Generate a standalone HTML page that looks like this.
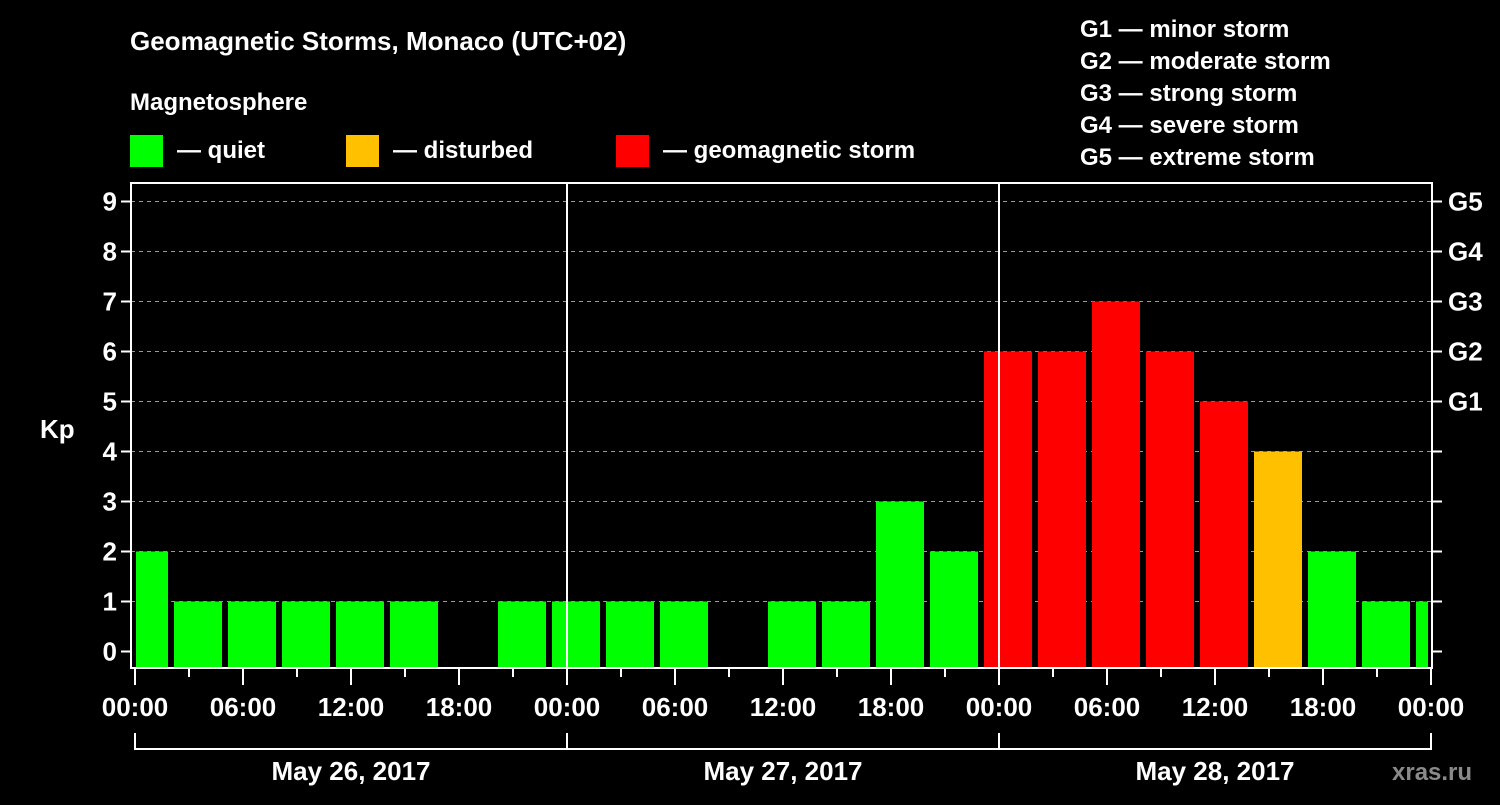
<!DOCTYPE html>
<html><head><meta charset="utf-8"><style>
body{margin:0;background:#000;width:1500px;height:800px;overflow:hidden}
svg text{font-family:"Liberation Sans",sans-serif;font-weight:bold;fill:#fff}
</style></head><body>
<svg id="c" width="1500" height="800">
<text x="130" y="50" font-size="26">Geomagnetic Storms, Monaco (UTC+02)</text>
<text x="130" y="110" font-size="24">Magnetosphere</text>
<rect x="130" y="135" width="33" height="32" fill="#00ff00"/>
<text x="177" y="158" font-size="24">— quiet</text>
<rect x="346" y="135" width="33" height="32" fill="#ffc000"/>
<text x="393" y="158" font-size="24">— disturbed</text>
<rect x="616" y="135" width="33" height="32" fill="#ff0000"/>
<text x="663" y="158" font-size="24">— geomagnetic storm</text>
<g font-size="24">
<text x="1080" y="37">G1 — minor storm</text>
<text x="1080" y="69">G2 — moderate storm</text>
<text x="1080" y="101">G3 — strong storm</text>
<text x="1080" y="133">G4 — severe storm</text>
<text x="1080" y="165">G5 — extreme storm</text>
</g>
<text x="40" y="438" font-size="26">Kp</text>
<text x="1392" y="780" font-size="24" fill="#888" style="fill:#8a8a8a">xras.ru</text>
<g id="plot"></g>
</svg>
<script>
const kpValues=[2,1,1,1,1,1,0,1,1,1,1,0,1,1,3,2,6,6,7,6,5,4,2,1,1];
const yTicks=[0,1,2,3,4,5,6,7,8,9];
const gLabels=["G1","G2","G3","G4","G5"];
const xTickLabels=["00:00","06:00","12:00","18:00","00:00","06:00","12:00","18:00","00:00","06:00","12:00","18:00","00:00"];
const dayLabels=["May 26, 2017","May 27, 2017","May 28, 2017"];
const NS="http://www.w3.org/2000/svg";
const g=document.getElementById('plot');
const X0=135,PXH=18,Y0=651.5,PXU=50,L=131,R=1432,T=183,B=668;
const xs=h=>X0+h*PXH, ys=v=>Y0-v*PXU;
function mk(t,a,txt){const e=document.createElementNS(NS,t);for(const k in a)e.setAttribute(k,a[k]);if(txt!=null)e.textContent=txt;g.appendChild(e);return e;}
yTicks.forEach(v=>{if(v>0){const l=mk('line',{x1:L,x2:R,y1:ys(v),y2:ys(v),stroke:'#999','stroke-dasharray':'4,4','stroke-width':1});

}
const t=mk('line',{x1:L-10,x2:L,y1:ys(v),y2:ys(v),stroke:'#fff','stroke-width':2});


const t2=mk('line',{x1:R,x2:R+10,y1:ys(v),y2:ys(v),stroke:'#fff','stroke-width':2});


const lb=mk('text',{x:L-14,y:ys(v)+9,'text-anchor':'end','font-size':26},String(v));


if(v>=5){const gl=mk('text',{x:R+16,y:ys(v)+9,'font-size':26},gLabels[v-5]);

}});
kpValues.forEach((v,i)=>{const s=-1+3*i;let x1=Math.max(xs(s)+3,X0+1),x2=Math.min(xs(s+3)-3,1428);
const col=v>=5?'#ff0000':(v>=4?'#ffc000':'#00ff00');
if(v<=0)return;
const r=mk('rect',{x:x1,y:ys(v),width:x2-x1,height:B-1-ys(v),fill:col});

});
[1,2].forEach(d=>{const l=mk('line',{x1:xs(24*d),x2:xs(24*d),y1:T,y2:B,stroke:'#fff','stroke-width':2});

});
const fr=mk('rect',{x:L,y:T,width:R-L,height:B-T,fill:'none',stroke:'#fff','stroke-width':2});


for(let h=0;h<=72;h+=3){const maj=h%6==0;const t=mk('line',{x1:xs(h),x2:xs(h),y1:B,y2:B+(maj?17:9),stroke:'#fff','stroke-width':2});

}
xTickLabels.forEach((s,i)=>{const t=mk('text',{x:xs(i*6),y:716,'text-anchor':'middle','font-size':26},s);

});
const br=mk('path',{d:`M${xs(0)},733V749H${xs(72)}V733M${xs(24)},733V749M${xs(48)},733V749`,stroke:'#fff','stroke-width':2,fill:'none'});


dayLabels.forEach((s,i)=>{const t=mk('text',{x:xs(24*i+12),y:780,'text-anchor':'middle','font-size':26},s);

});
</script>
</body></html>
